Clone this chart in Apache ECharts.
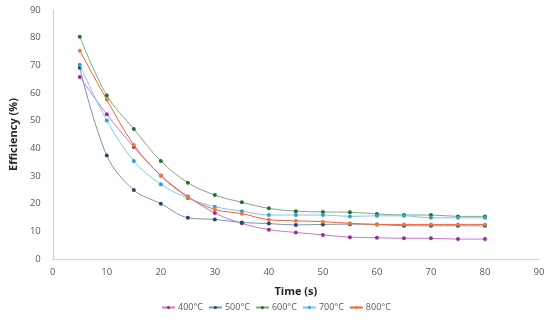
<!DOCTYPE html>
<html><head><meta charset="utf-8">
<script src="https://cdn.jsdelivr.net/npm/echarts@6/dist/echarts.min.js"></script>
<style>html,body{margin:0;padding:0;background:#fff}#c{width:550px;height:326px}</style>
</head><body><div id="c"></div>
<script>
var times = [5,10,15,20,25,30,35,40,45,50,55,60,65,70,75,80];
var s400 = [65.8,52.3,40.5,30.2,22.6,16.6,12.9,10.6,9.6,8.7,7.9,7.7,7.5,7.5,7.2,7.2];
var s500 = [69.1,37.4,24.9,20.0,14.9,14.3,13.2,12.8,12.3,12.5,12.6,12.5,12.0,12.0,12.0,12.0];
var s600 = [80.3,59.1,47.0,35.4,27.6,23.1,20.5,18.3,17.3,17.0,16.9,16.3,15.9,15.9,15.4,15.4];
var s700 = [70.2,50.1,35.4,27.0,22.0,18.9,17.3,15.9,15.9,15.9,15.4,15.6,15.6,14.9,14.9,14.9];
var s800 = [75.3,57.6,41.2,30.1,22.4,17.9,16.4,14.2,13.8,13.5,12.9,12.5,12.5,12.5,12.5,12.5];
var names = ['400°C','500°C','600°C','700°C','800°C'];
var markerColors = ['#9b2c9b','#27496d','#2a6e2e','#2aa3d8','#ef7a3a'];
var lineColors = ['#c879c8','#7d93a8','#7fa87f','#7fc8ea','#e8663a'];
var xTicks = [0,10,20,30,40,50,60,70,80,90];
var yTicks = [0,10,20,30,40,50,60,70,80,90];

function pairs(arr){ return times.map(function(t,i){return [t, arr[i]];}); }
var all = [s400,s500,s600,s700,s800];
var series = all.map(function(a,i){
  return {
    name: names[i], type:'line', smooth:0.35, data: pairs(a),
    symbol:'circle', symbolSize:4,
    itemStyle:{color:markerColors[i]},
    lineStyle:{color:lineColors[i], width:1},
    z: 2+i
  };
});

var chart = echarts.init(document.getElementById('c'), null, {renderer:'canvas'});
chart.setOption({
  animation:false,
  grid:{left:48, right:11, top:10, bottom:67, containLabel:false},
  xAxis:{
    type:'value', min:xTicks[0], max:xTicks[xTicks.length-1], interval:10,
    name:'Time (s)', nameLocation:'middle', nameGap:27,
    nameTextStyle:{fontFamily:'Open Sans', fontWeight:'bold', fontSize:11, color:'#262626'},
    axisLine:{lineStyle:{color:'#c9d7e6', width:1.2}},
    axisTick:{show:false},
    splitLine:{show:false},
    axisLabel:{fontFamily:'Open Sans', fontSize:9.5, color:'#595959', margin:8}
  },
  yAxis:{
    type:'value', min:yTicks[0], max:yTicks[yTicks.length-1], interval:10,
    name:'Efficiency (%)', nameLocation:'middle', nameGap:31, nameRotate:90,
    nameTextStyle:{fontFamily:'Open Sans', fontWeight:'bold', fontSize:11, color:'#262626'},
    axisLine:{show:true, lineStyle:{color:'#c9d7e6', width:1.2}},
    axisTick:{show:false},
    splitLine:{show:false},
    axisLabel:{fontFamily:'Open Sans', fontSize:9.5, color:'#595959', margin:12}
  },
  legend:{
    data:names, bottom:9, left:156, itemWidth:13, itemHeight:4, itemGap:5,
    textStyle:{fontFamily:'Open Sans', fontSize:9, color:'#595959', padding:[0,0,0,-2]}
  },
  series:series
});
</script></body></html>
